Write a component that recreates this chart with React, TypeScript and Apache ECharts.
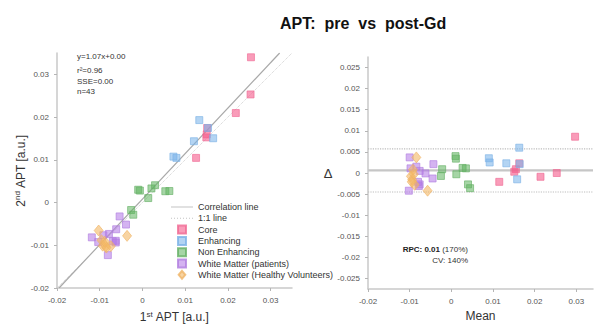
import React, { useEffect, useRef } from "react";
import * as echarts from "echarts";

// ---- data: 1st (pre) and 2nd (post-Gd) APT per group ----
const corePre = [0.0254, 0.0253, 0.02185, 0.01255, 0.01515, 0.01505, 0.01495];
const corePost = [0.034, 0.0253, 0.02095, 0.01045, 0.01745, 0.01595, 0.01525];

const enhPre = [0.0133, 0.01535, 0.01655, 0.01205, 0.00725, 0.00795];
const enhPost = [0.0193, 0.01745, 0.01505, 0.01435, 0.01075, 0.01045];

const nonEnhPre = [-0.001, -0.0006, -0.00265, -0.00215, 0.0021, 0.00295, 0.00135, 0.00535, 0.0063];
const nonEnhPost = [0.003, 0.0028, -0.00175, -0.00285, 0.0033, 0.00405, 0.00105, 0.00265, 0.0027];

const wmPre = [-0.01185, -0.01035, -0.00915, -0.00785, -0.00615, -0.00535, -0.00385, -0.00625, -0.00695, -0.0081, -0.00625];
const wmPost = [-0.00815, -0.00925, -0.00765, -0.00735, -0.00625, -0.00325, -0.00515, -0.00895, -0.00905, -0.0123, -0.00935];

const hvPre = [-0.01025, -0.0096, -0.0093, -0.0086, -0.0074, -0.00845, -0.0036, -0.00885];
const hvPost = [-0.00655, -0.0088, -0.0101, -0.0102, -0.0102, -0.01055, -0.0078, -0.00915];

const groupNames = [
  "Core",
  "Enhancing",
  "Non Enhancing",
  "White Matter (patients)",
  "White Matter (Healthy Volunteers)",
];
const groupPre = [corePre, enhPre, nonEnhPre, wmPre, hvPre];
const groupPost = [corePost, enhPost, nonEnhPost, wmPost, hvPost];

// fit and agreement statistics
const fitSlope = 1.065;
const fitIntercept = 0.0008;
const meanDiff = 0.0006;
const limitOfAgreement = 0.0051;

// axes
const leftRange = [-0.02, 0.035];
const rightXRange = [-0.02, 0.034];
const rightYRange = [-0.0275, 0.0275];
const leftTicks = [-0.02, -0.01, 0, 0.01, 0.02, 0.03];
const rightXTicks = [-0.02, -0.01, 0, 0.01, 0.02, 0.03];
const rightYTicks = [-0.025, -0.02, -0.015, -0.01, -0.005, 0, 0.005, 0.01, 0.015, 0.02, 0.025];

const fitText = ["y=1.07x+0.00", "r²=0.96", "SSE=0.00", "n=43"];

// ---- styles ----
const groupFill = [
  "rgba(245,90,138,0.75)",
  "rgba(120,178,234,0.7)",
  "rgba(96,180,96,0.7)",
  "rgba(178,120,230,0.7)",
  "rgba(244,184,100,0.75)",
];
const groupBorder = ["#f06a94", "#7cb2e6", "#66b066", "#b07ee0", "#efb466"];
const groupSymbol = ["rect", "rect", "rect", "rect", "diamond"];
const SQUARE_ICON = "path://M0,0H10V10H0Z";
const groupLegendIcon = [SQUARE_ICON, SQUARE_ICON, SQUARE_ICON, SQUARE_ICON, "path://M5,0L10,6L5,12L0,6Z"];
const SOLID_LINE_ICON = "path://M0,0H44V1.2H0Z";
const DOTTED_LINE_ICON =
  "path://M0,0H1V1H0Z M3,0H4V1H3Z M6,0H7V1H6Z M9,0H10V1H9Z M12,0H13V1H12Z M15,0H16V1H15Z M18,0H19V1H18Z M21,0H22V1H21Z";

const FONT = "Liberation Sans, Arial, Helvetica, sans-serif";

const fmt = (v: number) => String(parseFloat(v.toFixed(4)));

function axisBase(range: number[], ticks: number[]) {
  return {
    type: "value" as const,
    min: range[0],
    max: range[1],
    splitLine: { show: false },
    axisLine: { show: true, onZero: false, lineStyle: { color: "#c9c9c9", width: 1.5 } },
    axisTick: { show: true, customValues: ticks, length: 3, lineStyle: { color: "#b5b5b5" } },
    axisLabel: {
      customValues: ticks,
      formatter: (v: number) => fmt(v),
      fontSize: 8,
      color: "#555",
      fontFamily: FONT,
    },
  };
}

export default function App() {
  const ref = useRef<HTMLDivElement>(null);

  useEffect(() => {
    if (!ref.current) return;
    const chart = echarts.init(ref.current, undefined, { renderer: "svg" });

    const leftScatter = groupNames.map((name, i) => ({
      name,
      type: "scatter",
      xAxisIndex: 0,
      yAxisIndex: 0,
      symbol: groupSymbol[i],
      symbolSize: groupSymbol[i] === "diamond" ? [9, 11] : 7,
      itemStyle: { color: groupFill[i], borderColor: groupBorder[i], borderWidth: 0.8 },
      data: groupPre[i].map((p, k) => [p, groupPost[i][k]]),
      z: 3,
    }));

    const rightScatter = groupNames.map((name, i) => ({
      name,
      type: "scatter",
      xAxisIndex: 1,
      yAxisIndex: 1,
      symbol: groupSymbol[i],
      symbolSize: groupSymbol[i] === "diamond" ? [9, 11] : 7,
      itemStyle: { color: groupFill[i], borderColor: groupBorder[i], borderWidth: 0.8 },
      data: groupPre[i].map((p, k) => [(p + groupPost[i][k]) / 2, groupPost[i][k] - p]),
      z: 3,
    }));

    const hLine = (name: string, v: number, type: string, width: number, color: string) => ({
      name,
      type: "line",
      xAxisIndex: 1,
      yAxisIndex: 1,
      symbol: "none",
      silent: true,
      lineStyle: { color, width, type },
      data: [
        [rightXRange[0], v],
        [rightXRange[1], v],
      ],
      z: 1,
    });

    const fitX1 = (leftRange[0] - fitIntercept) / fitSlope;
    const fitX2 = (leftRange[1] - fitIntercept) / fitSlope;

    const option = {
      animation: false,
      backgroundColor: "#fff",
      textStyle: { fontFamily: FONT },
      title: {
        text: "APT:  pre  vs  post-Gd",
        left: 275,
        top: 10,
        textStyle: { fontSize: 16, fontWeight: "bold", color: "#111", fontFamily: FONT },
      },
      grid: [
        { left: 57, top: 53, width: 235, height: 235, outerBoundsMode: "none" },
        { left: 368, top: 57, width: 225, height: 232, outerBoundsMode: "none" },
      ],
      xAxis: [
        {
          ...axisBase(leftRange, leftTicks),
          gridIndex: 0,
          name: "{a|1}{s|st}{a| APT [a.u.]}",
          nameLocation: "middle",
          nameGap: 22,
          nameTextStyle: {
            rich: {
              a: { fontSize: 12, color: "#333", fontFamily: FONT, lineHeight: 14 },
              s: { fontSize: 8, color: "#333", fontFamily: FONT, lineHeight: 8, verticalAlign: "top" },
            },
          },
        },
        {
          ...axisBase(rightXRange, rightXTicks),
          gridIndex: 1,
          name: "Mean",
          nameLocation: "middle",
          nameGap: 18,
          nameTextStyle: { fontSize: 12, color: "#333", fontFamily: FONT },
        },
      ],
      yAxis: [
        {
          ...axisBase(leftRange, leftTicks),
          gridIndex: 0,
          name: "{a|2}{s|nd}{a| APT [a.u.]}",
          nameLocation: "middle",
          nameGap: 29,
          nameTextStyle: {
            rich: {
              a: { fontSize: 12, color: "#333", fontFamily: FONT, lineHeight: 14 },
              s: { fontSize: 8, color: "#333", fontFamily: FONT, lineHeight: 8, verticalAlign: "top" },
            },
          },
        },
        {
          ...axisBase(rightYRange, rightYTicks),
          gridIndex: 1,
          name: "Δ",
          nameLocation: "middle",
          nameRotate: 0,
          nameGap: 31,
          nameTextStyle: { fontSize: 13, color: "#333", fontFamily: FONT },
        },
      ],
      legend: {
        left: 166,
        top: 197,
        orient: "vertical",
        itemWidth: 22,
        itemHeight: 8,
        itemGap: 1.3,
        selectedMode: false,
        textStyle: { fontSize: 9, color: "#333", fontFamily: FONT, lineHeight: 10 },
        data: [
          { name: "Correlation line", icon: SOLID_LINE_ICON, itemStyle: { color: "#9a9a9a" } },
          { name: "1:1 line", icon: DOTTED_LINE_ICON, itemStyle: { color: "#c4c4c4" } },
          ...groupNames.map((n, i) => ({ name: n, icon: groupLegendIcon[i] })),
        ],
      },
      graphic: [
        ...fitText.map((t, i) => ({
          type: "text",
          left: 77,
          top: [52, 66, 77, 87][i],
          style: { text: t, fontSize: 8, fill: "#333", fontFamily: FONT },
        })),
        {
          type: "text",
          x: 468,
          y: 249,
          style: {
            text: "{b|RPC: 0.01} (170%)",
            align: "right",
            verticalAlign: "middle",
            fontSize: 8,
            fill: "#333",
            fontFamily: FONT,
            rich: { b: { fontWeight: "bold", fontSize: 8, fill: "#222", fontFamily: FONT } },
          },
        },
        {
          type: "text",
          x: 468,
          y: 260,
          style: {
            text: "CV: 140%",
            align: "right",
            verticalAlign: "middle",
            fontSize: 8,
            fill: "#333",
            fontFamily: FONT,
          },
        },
      ],
      series: [
        {
          name: "Correlation line",
          type: "line",
          xAxisIndex: 0,
          yAxisIndex: 0,
          symbol: "none",
          lineStyle: { color: "#a8a8a8", width: 1.2, type: "solid" },
          itemStyle: { color: "#a8a8a8" },
          data: [
            [fitX1, fitSlope * fitX1 + fitIntercept],
            [fitX2, fitSlope * fitX2 + fitIntercept],
          ],
          z: 2,
        },
        {
          name: "1:1 line",
          type: "line",
          xAxisIndex: 0,
          yAxisIndex: 0,
          symbol: "none",
          lineStyle: { color: "#cfcfcf", width: 1, type: "dotted" },
          itemStyle: { color: "#cfcfcf" },
          data: [
            [leftRange[0], leftRange[0]],
            [leftRange[1], leftRange[1]],
          ],
          z: 1,
        },
        hLine("Mean difference", meanDiff, "solid", 2.2, "#c6c6c6"),
        hLine("Upper limit", meanDiff + limitOfAgreement, "dotted", 1.2, "#bdbdbd"),
        hLine("Lower limit", meanDiff - limitOfAgreement, "dotted", 1.2, "#bdbdbd"),
        ...leftScatter,
        ...rightScatter,
      ],
    };

    chart.setOption(option as any);
    return () => chart.dispose();
  }, []);

  return (
    <div
      ref={ref}
      style={{ position: "fixed", left: 0, top: 0, width: 595, height: 324, background: "#fff" }}
    />
  );
}
